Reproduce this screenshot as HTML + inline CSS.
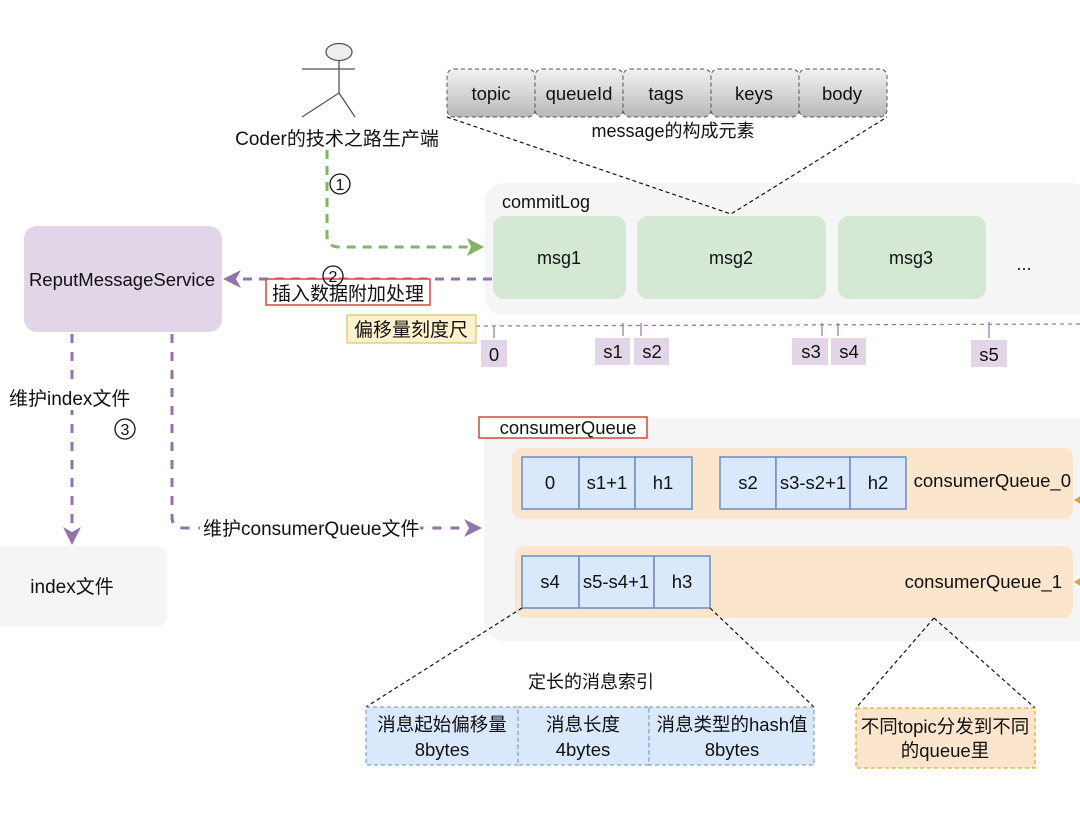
<!DOCTYPE html>
<html><head><meta charset="utf-8"><style>
html,body{margin:0;padding:0;background:#fff}
svg{display:block}
text{font-family:"Liberation Sans","Noto Sans CJK SC",sans-serif;fill:#111}
</style></head><body>
<svg width="1080" height="820" viewBox="0 0 1080 820" xmlns="http://www.w3.org/2000/svg">
<defs>
<linearGradient id="g" x1="0" y1="0" x2="0" y2="1"><stop offset="0" stop-color="#f2f2f2"/><stop offset="1" stop-color="#b8b8b8"/></linearGradient>
</defs>
<!-- actor -->
<g stroke="#555" stroke-width="1.3" fill="none">
<ellipse cx="339" cy="52" rx="13" ry="8.5" fill="#eee"/>
<line x1="339" y1="61" x2="339" y2="93"/>
<line x1="302" y1="69" x2="355" y2="69"/>
<line x1="339" y1="93" x2="302" y2="117"/>
<line x1="339" y1="93" x2="355" y2="117"/>
</g>
<text x="337" y="145" font-size="19" text-anchor="middle" fill="#333">Coder的技术之路生产端</text>
<!-- green arrow -->
<path d="M327 150 V235 Q327 247 339 247 H470" fill="none" stroke="#82b366" stroke-width="3" stroke-dasharray="9 7"/>
<polygon points="484,247 467,238 471,247 467,256" fill="#82b366"/>
<circle cx="340" cy="184" r="10" fill="#fff" stroke="#111" stroke-width="1.3"/>
<text x="340" y="190" font-size="16" text-anchor="middle">1</text>
<!-- message fields -->
<g stroke="#555" stroke-dasharray="4 3" fill="url(#g)">
<rect x="447" y="69" width="88" height="48" rx="7"/>
<rect x="535" y="69" width="88" height="48" rx="7"/>
<rect x="623" y="69" width="88" height="48" rx="7"/>
<rect x="711" y="69" width="88" height="48" rx="7"/>
<rect x="799" y="69" width="88" height="48" rx="7"/>
</g>
<g font-size="18.5" text-anchor="middle">
<text x="491" y="100">topic</text><text x="579" y="100">queueId</text><text x="666" y="100">tags</text><text x="754" y="100">keys</text><text x="842" y="100">body</text>
</g>
<text x="673" y="137" font-size="18" text-anchor="middle">message的构成元素</text>
<!-- commitLog -->
<rect x="485" y="183" width="605" height="132" rx="18" fill="#f5f5f5"/>
<text x="502" y="208" font-size="18">commitLog</text>
<g fill="#d5e8d4">
<rect x="493" y="216" width="133" height="83" rx="11"/>
<rect x="637" y="216" width="189" height="83" rx="11"/>
<rect x="838" y="216" width="148" height="83" rx="11"/>
</g>
<g font-size="18" text-anchor="middle"><text x="559" y="264">msg1</text><text x="731" y="264">msg2</text><text x="911" y="264">msg3</text><text x="1024" y="270">...</text></g>
<path d="M447 117 L731 214 L887 117" fill="none" stroke="#111" stroke-width="1.2" stroke-dasharray="4 3"/>
<!-- ReputMessageService -->
<rect x="24" y="226" width="198" height="106" rx="13" fill="#e1d5e7"/>
<text x="122" y="286" font-size="18.5" text-anchor="middle">ReputMessageService</text>
<line x1="492" y1="279" x2="238" y2="279" stroke="#9673a6" stroke-width="3" stroke-dasharray="9 7"/>
<polygon points="223,279 241,270 236,279 241,288" fill="#9673a6"/>
<rect x="266" y="279" width="164" height="26" fill="#fff" stroke="#d9453a" stroke-width="1.5"/>
<circle cx="333" cy="276" r="10" fill="none" stroke="#111" stroke-width="1.3"/>
<text x="333" y="282" font-size="16" text-anchor="middle">2</text>
<text x="348" y="300" font-size="19" text-anchor="middle">插入数据附加处理</text>
<!-- ruler -->
<line x1="476" y1="326" x2="1080" y2="324" stroke="#9673a6" stroke-width="1.2" stroke-dasharray="4 4"/>
<rect x="347" y="315" width="129" height="28" fill="#fff2cc" stroke="#d6b656"/>
<text x="411" y="336" font-size="19" text-anchor="middle">偏移量刻度尺</text>
<g stroke="#9673a6" stroke-width="1.2">
<line x1="494" y1="326" x2="494" y2="338"/><line x1="623" y1="323" x2="623" y2="336"/><line x1="641" y1="323" x2="641" y2="336"/>
<line x1="822" y1="323" x2="822" y2="336"/><line x1="838" y1="323" x2="838" y2="336"/><line x1="989" y1="322" x2="989" y2="338"/>
</g>
<g fill="#e1d5e7">
<rect x="481" y="340" width="26" height="27"/><rect x="595" y="338" width="35" height="27"/><rect x="634" y="338" width="35" height="27"/>
<rect x="792" y="338" width="36" height="27"/><rect x="831" y="338" width="35" height="27"/><rect x="971" y="340" width="36" height="27"/>
</g>
<g font-size="18.5" text-anchor="middle"><text x="494" y="361">0</text><text x="613" y="358">s1</text><text x="652" y="358">s2</text><text x="811" y="358">s3</text><text x="849" y="358">s4</text><text x="989" y="361">s5</text></g>
<!-- maintain arrows -->
<line x1="72" y1="334" x2="72" y2="528" stroke="#9673a6" stroke-width="3" stroke-dasharray="9 9"/>
<polygon points="72,545 63,527 72,532 81,527" fill="#9673a6"/>
<rect x="8" y="384" width="125" height="26" fill="#fff"/>
<text x="9" y="405" font-size="19">维护index文件</text>
<circle cx="125" cy="429" r="10" fill="none" stroke="#111" stroke-width="1.3"/>
<text x="125" y="435" font-size="16" text-anchor="middle">3</text>
<path d="M172 334 V517 Q172 528 184 528 H466" fill="none" stroke="#9673a6" stroke-width="3" stroke-dasharray="9 9"/>
<polygon points="482,528 464,519 469,528 464,537" fill="#9673a6"/>
<rect x="200" y="514" width="220" height="26" fill="#fff"/>
<text x="203" y="535" font-size="19">维护consumerQueue文件</text>
<rect x="-20" y="546" width="187" height="81" rx="11" fill="#f5f5f5"/>
<text x="72" y="593" font-size="19" text-anchor="middle" fill="#333">index文件</text>
<!-- consumerQueue -->
<rect x="484" y="418" width="620" height="223" rx="20" fill="#f5f5f5"/>
<rect x="479" y="417" width="168" height="21" fill="#fff" stroke="#d9453a" stroke-width="1.5"/>
<text x="568" y="434" font-size="18.5" text-anchor="middle">consumerQueue</text>
<rect x="512" y="448" width="561" height="71" rx="10" fill="#fbe5cd"/>
<rect x="515" y="546" width="558" height="72" rx="10" fill="#fbe5cd"/>
<g fill="#dae8fc" stroke="#6c8ebf" stroke-width="1.5">
<rect x="522" y="457" width="57" height="52"/><rect x="579" y="457" width="56" height="52"/><rect x="635" y="457" width="57" height="52"/>
<rect x="720" y="457" width="56" height="52"/><rect x="776" y="457" width="74" height="52"/><rect x="850" y="457" width="56" height="52"/>
<rect x="522" y="556" width="57" height="52"/><rect x="579" y="556" width="75" height="52"/><rect x="654" y="556" width="56" height="52"/>
</g>
<g font-size="18.5" text-anchor="middle">
<text x="550" y="489">0</text><text x="607" y="489">s1+1</text><text x="663" y="489">h1</text>
<text x="748" y="489">s2</text><text x="813" y="489">s3-s2+1</text><text x="878" y="489">h2</text>
<text x="550" y="588">s4</text><text x="616" y="588">s5-s4+1</text><text x="682" y="588">h3</text>
</g>
<text x="1071" y="487" font-size="18.5" text-anchor="end">consumerQueue_0</text>
<text x="1062" y="588" font-size="18.5" text-anchor="end">consumerQueue_1</text>
<polygon points="1074,500 1082,495 1082,505" fill="#d6a24a"/>
<polygon points="1074,582 1082,577 1082,587" fill="#d6a24a"/>
<!-- callouts -->
<path d="M522 608 L366 707 M710 608 L814 707 M934 618 L856 708 M934 618 L1035 708" fill="none" stroke="#111" stroke-width="1.2" stroke-dasharray="4 3"/>
<text x="591" y="688" font-size="18" text-anchor="middle">定长的消息索引</text>
<g fill="#dae8fc" stroke="#6c8ebf" stroke-dasharray="4 3">
<rect x="366" y="707" width="152" height="58"/><rect x="518" y="707" width="131" height="58"/><rect x="649" y="707" width="165" height="58"/>
</g>
<g font-size="18.5" text-anchor="middle">
<text x="442" y="731">消息起始偏移量</text><text x="442" y="756">8bytes</text>
<text x="583" y="731">消息长度</text><text x="583" y="756">4bytes</text>
<text x="732" y="731">消息类型的hash值</text><text x="732" y="756">8bytes</text>
</g>
<rect x="856" y="708" width="179" height="60" fill="#fbe5cd" stroke="#d79b00" stroke-dasharray="4 3"/>
<g font-size="18.5" text-anchor="middle"><text x="945" y="733">不同topic分发到不同</text><text x="945" y="757">的queue里</text></g>
</svg>
</body></html>
